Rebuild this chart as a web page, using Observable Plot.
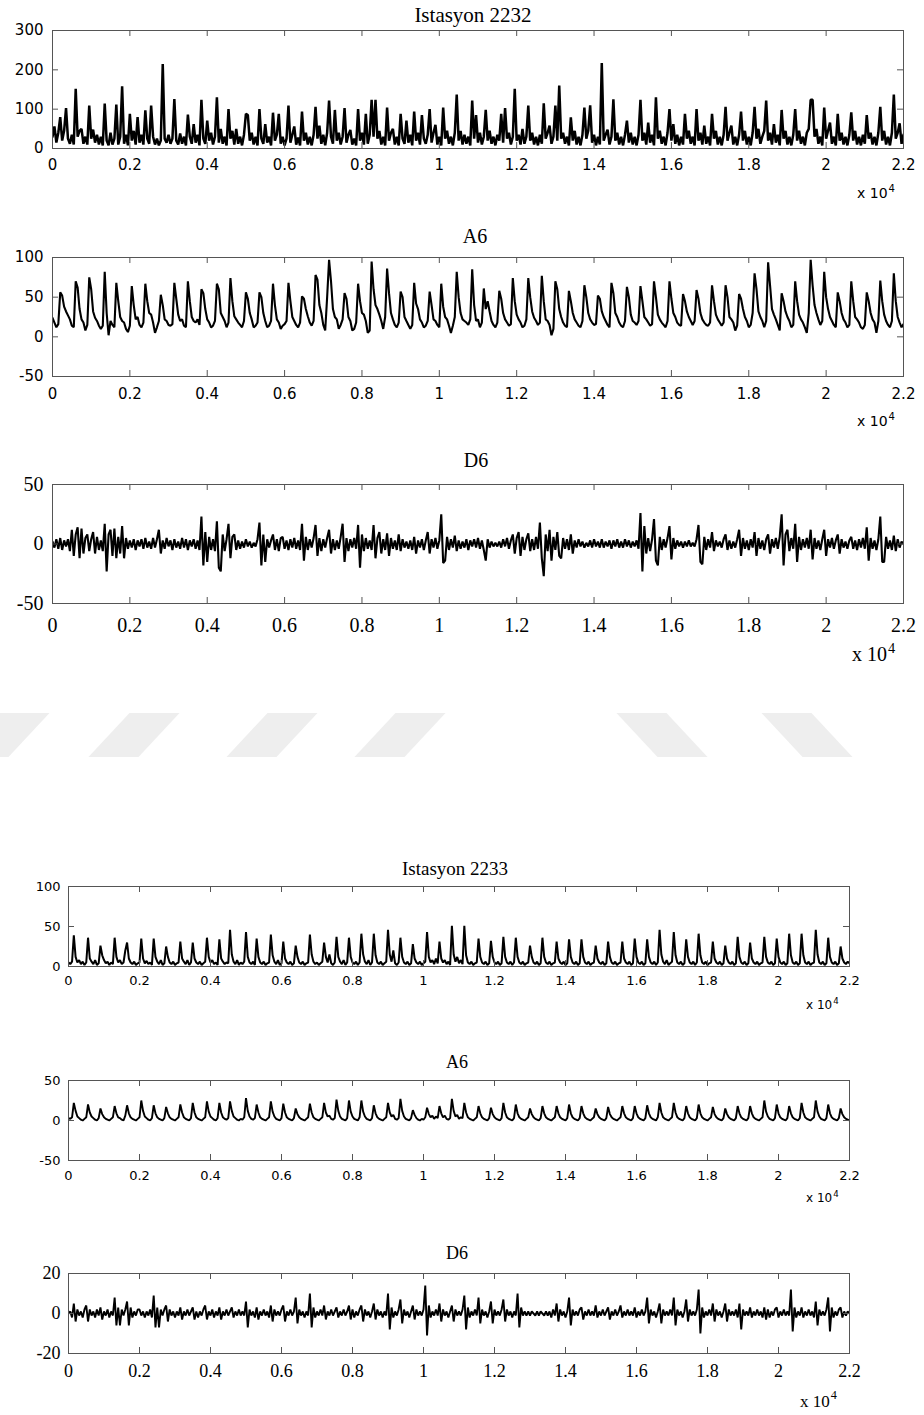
<!DOCTYPE html>
<html>
<head>
<meta charset="utf-8">
<script src="https://cdn.jsdelivr.net/npm/d3@7"></script>
<script src="https://cdn.jsdelivr.net/npm/@observablehq/plot@0.6"></script>
<style>
  html, body { margin: 0; padding: 0; background: #fff; }
  #page { position: relative; width: 924px; height: 1415px; overflow: hidden; background: #fff; }
  .ttl { position: absolute; white-space: nowrap; color: #000; font-family: "Liberation Serif", "Times New Roman", serif; line-height: 1; transform: translateX(-50%); }
  .exp { position: absolute; white-space: nowrap; color: #000; line-height: 1; }
  .exp span { position: relative; font-size: 0.72em; top: -0.6em; margin-left: 1px; }
  .wm { position: absolute; background: #eeeeee; }
</style>
</head>
<body>
<div id="page"></div>
<script>
// ---------- data ----------
const sampleStep = 50; // time units between consecutive samples
const xTickValues = [0, 2000, 4000, 6000, 8000, 10000, 12000, 14000, 16000, 18000, 20000, 22000];
const xTickLabels = ["0", "0.2", "0.4", "0.6", "0.8", "1", "1.2", "1.4", "1.6", "1.8", "2", "2.2"];

const ist2232Ticks = [0, 100, 200, 300];
const ist2232Labels = ["0", "100", "200", "300"];
const a6TopTicks = [-50, 0, 50, 100];
const a6TopLabels = ["-50", "0", "50", "100"];
const d6TopTicks = [-50, 0, 50];
const d6TopLabels = ["-50", "0", "50"];
const ist2233Ticks = [0, 50, 100];
const ist2233Labels = ["0", "50", "100"];
const a6BottomTicks = [-50, 0, 50];
const a6BottomLabels = ["-50", "0", "50"];
const d6BottomTicks = [-20, 0, 20];
const d6BottomLabels = ["-20", "0", "20"];

const ist2232 = [
30,56,15,40,80,20,45,103,25,12,
35,10,152,30,45,50,12,30,10,109,
25,48,15,35,10,30,8,114,20,8,
40,10,25,112,10,30,158,12,35,8,
88,20,45,10,80,15,35,10,97,25,
12,109,30,10,25,8,20,215,25,15,
35,12,25,126,20,10,38,12,30,8,
86,30,12,62,15,35,8,124,25,12,
71,20,40,10,30,130,15,50,12,30,
8,100,25,45,10,50,12,30,8,35,
88,85,20,40,10,30,8,100,25,12,
62,15,30,8,91,20,35,88,12,30,
8,25,109,15,35,56,10,28,8,94,
20,40,10,30,8,35,106,25,58,12,
35,8,40,122,30,12,98,20,40,10,
30,103,15,35,47,10,25,8,100,20,
40,10,88,12,35,124,30,124,25,45,
10,30,8,104,20,40,50,10,30,8,
88,25,12,71,15,35,8,94,20,40,
10,85,25,12,35,100,15,40,60,10,
30,8,104,25,45,12,30,8,40,137,
20,45,10,35,12,30,8,122,25,85,
15,40,10,30,98,20,45,12,30,8,
35,20,88,15,103,25,40,10,30,152,
20,35,10,50,12,30,109,20,40,10,
30,8,35,12,115,25,40,58,12,30,
109,20,160,25,40,12,30,8,79,20,
45,10,30,8,35,104,25,45,110,15,
35,8,30,10,217,20,35,48,10,30,
125,20,40,10,30,8,35,71,15,40,
10,30,8,35,124,20,40,10,66,15,
35,8,130,25,45,12,30,8,40,100,
20,62,12,35,8,30,10,88,25,45,
12,30,8,100,20,40,10,58,12,30,
8,88,25,45,10,30,8,35,106,20,
40,58,10,30,8,35,94,20,45,10,
30,8,40,106,25,50,12,30,45,122,
20,40,10,62,15,35,8,98,25,45,
10,30,8,35,100,20,45,12,30,8,
40,50,124,124,30,50,12,30,8,104,
25,45,66,12,30,8,88,20,40,10,
30,8,35,92,20,45,10,30,8,35,
12,85,25,40,10,30,8,40,106,20,
45,10,30,8,40,137,25,40,64,12,
35];

const a6Top = [
24,18,12,16,
56,52,38,32,27,22,14,12,
70,62,35,22,18,8,15,
75,60,32,24,20,14,10,14,
82,30,2,20,15,12,
68,45,25,20,18,10,6,14,
64,40,22,25,15,12,18,
67,45,30,28,18,5,12,20,
53,40,22,20,15,14,16,
68,48,28,20,22,14,12,
70,45,25,20,18,22,15,
60,55,35,22,18,12,14,20,
67,60,30,25,20,12,18,
74,45,26,22,18,15,12,20,
56,48,30,22,12,14,18,
56,50,30,20,12,14,20,
67,40,22,18,10,14,16,20,
68,45,25,20,15,12,18,
51,48,35,26,18,14,20,
78,72,40,30,15,8,50,
97,70,35,25,22,10,15,22,
55,48,25,20,8,10,18,
67,45,30,28,20,5,8,
95,60,40,35,28,20,10,25,
86,55,30,22,15,12,18,
57,50,25,20,15,10,15,
68,42,35,22,18,12,14,20,
57,40,22,20,15,12,
67,38,25,22,14,5,14,25,
82,50,30,22,20,18,15,22,
85,40,20,22,12,18,
61,35,45,32,20,15,12,18,
58,48,30,22,18,14,16,
74,45,28,22,18,12,14,22,
74,50,32,24,20,15,18,
77,45,22,20,15,2,10,
70,60,35,25,18,14,12,
58,45,30,22,18,14,12,20,
65,50,30,22,18,15,16,
52,48,32,25,20,15,12,
68,55,30,25,18,14,12,20,
63,50,28,20,18,15,20,
64,45,25,22,18,14,16,
70,50,28,22,18,15,12,20,
70,48,30,25,18,15,14,
54,45,32,25,20,15,20,
59,48,30,22,18,15,14,18,
65,45,28,22,18,14,18,
65,50,25,22,18,8,14,
54,48,35,25,20,12,15,30,
80,60,32,25,20,12,20,
94,65,35,28,22,15,8,
55,45,32,25,20,12,15,
70,45,28,22,18,12,5,30,
97,65,40,30,22,15,20,
82,50,35,25,20,15,12,
56,45,30,22,18,12,15,
70,45,25,22,18,12,10,15,
56,45,30,22,18,5,20,
71,45,28,20,15,12,20,
80,45,25,18,12,16];

const d6Top = [
2,-3,4,-4,5,-5,3,-2,4,-6,
12,-10,8,14,-12,13,-8,5,8,-6,
4,10,-8,6,-5,3,-6,17,-23,8,
12,-10,13,-12,6,-8,15,-12,5,-4,
3,-3,4,-5,3,-2,4,-4,5,-3,
2,-4,5,-3,4,12,-8,3,-4,5,
-2,3,-5,4,-3,2,-4,5,-3,4,
-5,3,-2,4,-4,3,-5,23,-18,10,
-15,6,-5,4,-6,19,-20,-23,8,-6,
4,17,-12,6,8,-5,3,-4,2,-3,
4,-2,2,-3,1,-2,4,18,-18,8,
-15,4,-3,3,8,-5,4,-6,5,6,
-4,3,-5,4,-3,5,-4,3,-5,17,
-14,6,-5,4,-3,5,16,-10,5,-6,
4,-3,5,12,-8,4,-5,3,-4,6,
17,-15,5,-6,4,-3,5,-4,16,-20,
8,-6,5,-4,3,-5,16,-12,5,10,
-8,4,-5,9,-10,5,-4,3,-5,8,
-6,4,-3,2,-4,3,-5,6,-8,3,
-3,4,-5,3,10,-8,4,-3,5,-4,
3,25,-16,-14,6,-5,4,-3,7,-6,
3,-4,2,-3,4,-5,3,-2,4,-3,
5,-4,3,-5,-14,4,-3,2,-2,1,
-2,2,-3,4,-2,5,-4,3,8,-8,
5,10,-10,6,-5,4,9,-6,4,-5,
6,-4,18,-12,-27,8,-6,12,-14,6,
-5,10,-10,-12,5,-4,4,-5,8,-8,
3,-3,4,-2,2,-3,1,-2,3,-3,
4,-2,2,-3,4,-3,2,-2,3,-4,
3,-2,4,-3,2,-3,4,-2,3,-3,
2,-2,3,-4,26,-23,15,-8,5,-6,
4,21,-14,-18,6,-5,4,-3,5,15,
-13,5,-4,3,-2,2,-3,2,-2,3,
-2,1,-2,4,16,-15,-17,6,-5,4,
-3,10,-6,3,-2,2,-3,4,8,-5,
3,-4,2,-3,4,12,-10,5,-4,3,
-5,4,-3,10,-10,5,-4,3,-5,4,
8,-8,4,-3,5,-4,6,25,-18,8,
12,-6,5,-4,17,-15,6,-5,4,-3,
5,-4,12,-13,5,-4,3,-5,4,12,
-10,4,-3,5,-4,3,8,-8,4,-3,
2,-4,3,6,-4,3,-5,4,-3,5,
-4,14,-14,5,-4,3,-5,4,23,-15,
-15,6,-4,3,-5,7,-6,4,-3,2,
0];

const ist2233 = [
5,3,6,39,12,5,8,3,6,2,
5,36,10,6,3,8,2,4,26,14,
8,4,6,2,5,3,36,12,5,8,
3,5,20,30,10,5,3,6,2,4,
5,35,10,4,7,3,5,2,35,12,
6,3,8,2,4,25,12,5,3,6,
2,4,5,31,10,6,3,8,2,5,
30,10,5,3,6,2,4,6,36,12,
5,8,3,5,2,34,10,6,3,5,
4,46,15,6,3,8,2,5,3,6,
43,12,5,3,6,2,35,12,5,3,
6,2,4,5,40,14,6,3,8,2,
4,31,10,5,3,6,2,4,26,12,
5,3,6,2,4,5,40,15,6,3,
5,2,4,6,30,12,5,15,4,2,
5,37,12,6,3,8,2,5,36,12,
5,3,6,2,5,41,15,6,3,8,
2,5,41,14,5,3,6,2,4,6,
46,15,6,20,4,2,5,36,12,5,
3,6,2,4,28,10,5,3,6,2,
4,6,43,12,5,8,3,10,4,31,
10,5,8,3,6,2,51,15,6,12,
4,8,3,51,14,5,3,6,2,4,
5,35,12,5,3,6,2,4,32,12,
5,3,6,2,4,37,12,5,3,6,
2,5,36,12,5,3,6,2,4,5,
26,12,5,3,6,2,4,36,12,5,
3,6,2,4,5,31,10,5,3,6,
2,4,34,12,5,3,6,2,4,34,
12,5,3,6,2,4,5,26,10,5,
3,6,2,4,31,12,5,3,6,2,
4,5,31,10,5,3,6,2,4,35,
12,5,3,6,2,4,34,12,5,3,
6,2,5,46,15,6,3,8,2,4,
6,43,14,5,3,6,2,4,34,12,
5,3,6,2,5,41,14,5,3,6,
2,4,5,31,10,5,3,6,2,4,
26,10,5,3,6,2,4,37,12,5,
3,6,2,4,30,10,5,3,6,2,
4,5,37,12,5,3,6,2,4,35,
12,5,3,6,2,4,41,14,5,3,
6,2,4,41,14,5,3,6,2,4,
5,46,15,5,3,6,2,4,36,12,
5,3,6,2,4,25,10,5,3,6,
4];

const a6Bottom = [
3,2,4,22,12,5,3,1,0,2,
4,20,10,5,3,1,0,3,15,8,
4,2,1,0,2,4,18,9,4,3,
1,0,6,19,9,4,2,1,0,2,
4,25,12,5,3,1,0,3,19,9,
4,2,1,0,3,17,9,4,2,1,
0,2,4,20,10,4,2,1,0,3,
22,10,4,2,1,0,2,4,24,11,
5,3,1,0,3,22,10,4,2,1,
3,24,12,5,3,1,0,2,1,4,
28,12,5,2,1,3,20,10,4,2,
1,0,2,4,24,11,5,2,1,0,
3,21,10,4,2,1,0,3,15,8,
4,2,1,0,2,4,21,10,4,2,
1,0,2,4,22,10,5,6,2,1,
3,26,12,5,2,1,0,3,25,11,
5,2,1,0,4,25,11,5,2,1,
0,3,19,9,4,2,1,0,2,4,
22,10,5,7,2,1,3,27,12,5,
2,1,0,3,13,7,3,1,0,2,
1,4,16,8,4,6,2,5,3,18,
9,4,6,2,1,3,27,12,5,7,
2,4,3,22,10,4,2,1,0,2,
4,18,9,4,2,1,0,3,16,8,
4,2,1,0,3,22,10,4,2,1,
0,3,20,9,4,2,1,0,2,4,
15,8,4,2,1,0,3,18,9,4,
2,1,0,2,4,18,9,4,2,1,
0,3,20,9,4,2,1,0,3,18,
9,4,2,1,0,2,4,15,8,4,
2,1,0,3,17,8,4,2,1,0,
2,4,18,9,4,2,1,0,3,18,
9,4,2,1,0,3,19,9,4,2,
1,0,4,22,10,4,2,1,0,2,
4,22,10,4,2,1,0,3,18,9,
4,2,1,0,3,20,9,4,2,1,
0,2,4,17,8,4,2,1,0,3,
15,8,4,2,1,0,3,18,9,4,
2,1,0,3,18,9,4,2,1,0,
2,4,25,11,5,2,1,0,3,20,
9,4,2,1,0,3,18,9,4,2,
1,0,3,22,10,4,2,1,0,2,
4,25,11,5,2,1,0,3,20,9,
4,2,1,0,3,15,8,4,2,1,
0];

const d6Bottom = [
0,1,-2,5,-4,2,-1,1,-2,2,
4,-4,2,-1,1,-2,2,-1,3,-3,
1,-1,2,-2,1,-1,8,-6,3,-6,
2,-1,2,6,-6,3,-2,1,-1,2,
2,-1,1,-2,1,-1,2,-2,9,-7,
3,-7,2,-1,2,4,-4,2,-1,1,
-2,1,-1,3,-3,1,-1,2,-1,1,
3,-3,1,-2,1,-1,2,4,-3,1,
-1,2,-2,1,-1,3,-3,1,-1,2,
-1,1,3,-2,1,-1,2,-1,1,-1,
6,-7,2,-1,1,-2,3,-3,1,-1,
2,-1,1,-2,4,-4,2,-1,1,-1,
2,4,-4,1,-1,2,-1,1,8,-5,
2,-1,1,-2,1,-1,10,-7,3,-2,
1,-1,2,-1,4,-3,1,-1,2,-1,
1,3,-2,1,-1,2,-1,1,4,-3,
2,-2,1,-1,2,4,-4,2,-1,1,
-2,1,5,-3,2,-1,1,-2,1,-1,
10,-8,3,-2,1,-1,2,7,-5,2,
-1,1,-2,1,4,-3,2,-1,1,-1,
2,14,-11,4,-2,1,-1,2,-1,5,
-4,2,-1,1,-2,1,4,-4,2,-1,
1,-1,2,9,-8,3,-2,1,-1,2,
-1,8,-5,2,-1,1,-2,1,6,-5,
2,-1,1,-1,2,7,-4,2,-1,1,
-2,1,-1,10,-7,3,-1,1,-1,1,
-1,1,0,-1,1,-1,1,0,-1,1,
-1,1,-2,2,-1,5,-4,2,-1,1,
-2,1,8,-6,2,-1,1,-1,2,3,
-3,1,-1,2,-1,1,-1,4,-2,1,
-1,2,-1,1,3,-3,1,-1,2,-1,
1,4,-2,1,-1,2,-1,1,-1,3,
-2,1,-1,2,-1,1,8,-5,2,-1,
1,-2,1,5,-5,2,-1,1,-1,2,
-1,8,-6,2,-1,1,-2,1,7,-4,
2,-1,1,-1,2,12,-10,3,-2,1,
-1,2,-1,5,-4,2,-1,1,-2,1,
5,-4,2,-1,1,-1,2,-2,5,-8,
2,-1,1,-1,3,-2,1,-1,2,-1,
1,-2,3,-3,2,-2,1,-1,2,3,
-2,1,-1,2,-1,1,-1,12,-9,3,
-2,1,-1,3,-2,1,-1,2,-1,1,
-2,6,-6,2,-1,1,-1,2,8,-9,
3,-2,1,-1,2,3,-2,1,-1,1,
0];

// ---------- layout / style ----------
const frameColor = "#555";
const tickLen = 6;
const SANS = "'DejaVu Sans', Verdana, sans-serif";
const SERIF = "'Liberation Serif', 'Times New Roman', serif";

const panels = [
  {values: ist2232, yDomain: [0, 300], yTicks: ist2232Ticks, yLabels: ist2232Labels,
   frameTop: 30, frameBottom: 148, ml: 52, mr: 21, font: SANS, fs: 15, padX: 11, padY: 9, sw: 2.5,
   title: "Istasyon 2232", tx: 473, tb: 23, tfs: 21, ex: 857, eb: 198, efont: SANS, efs: 14},
  {values: a6Top, yDomain: [-50, 100], yTicks: a6TopTicks, yLabels: a6TopLabels,
   frameTop: 257, frameBottom: 376, ml: 52, mr: 21, font: SANS, fs: 15, padX: 12, padY: 9, sw: 2.1,
   title: "A6", tx: 475, tb: 243, tfs: 20, ex: 857, eb: 426, efont: SANS, efs: 14},
  {values: d6Top, yDomain: [-50, 50], yTicks: d6TopTicks, yLabels: d6TopLabels,
   frameTop: 484, frameBottom: 603, ml: 52, mr: 21, font: SERIF, fs: 20, padX: 14, padY: 9, sw: 2.1,
   title: "D6", tx: 476, tb: 467, tfs: 20, ex: 852, eb: 661, efont: SERIF, efs: 20},
  {values: ist2233, yDomain: [0, 100], yTicks: ist2233Ticks, yLabels: ist2233Labels,
   frameTop: 886, frameBottom: 966, ml: 68, mr: 75, font: SANS, fs: 13, padX: 9, padY: 8, sw: 2,
   title: "Istasyon 2233", tx: 455, tb: 875, tfs: 19, ex: 806, eb: 1009, efont: SANS, efs: 12},
  {values: a6Bottom, yDomain: [-50, 50], yTicks: a6BottomTicks, yLabels: a6BottomLabels,
   frameTop: 1080, frameBottom: 1160, ml: 68, mr: 75, font: SANS, fs: 13, padX: 10, padY: 8, sw: 1.9,
   title: "A6", tx: 457, tb: 1068, tfs: 18, ex: 806, eb: 1202, efont: SANS, efs: 12},
  {values: d6Bottom, yDomain: [-20, 20], yTicks: d6BottomTicks, yLabels: d6BottomLabels,
   frameTop: 1273, frameBottom: 1353, ml: 68, mr: 75, font: SERIF, fs: 18, padX: 11, padY: 8, sw: 1.9,
   title: "D6", tx: 457, tb: 1259, tfs: 18, ex: 800, eb: 1407, efont: SERIF, efs: 17}
];

const page = document.getElementById("page");

// faint watermark stripes (decoration of the scanned page)
const stripes = [
  {cx: 4, skew: -43}, {cx: 134, skew: -43}, {cx: 272, skew: -43}, {cx: 400, skew: -43},
  {cx: 662, skew: 43}, {cx: 807, skew: 43}
];
for (const s of stripes) {
  const d = document.createElement("div");
  d.className = "wm";
  d.style.left = (s.cx - 25) + "px";
  d.style.top = "713px";
  d.style.width = "50px";
  d.style.height = "44px";
  d.style.transform = `skewX(${s.skew}deg)`;
  page.appendChild(d);
}

const xLab = new Map(xTickValues.map((t, i) => [t, xTickLabels[i]]));

for (const p of panels) {
  const rows = p.values.map((v, i) => ({t: i * sampleStep, v}));
  const mt = 24, mb = 44;
  const innerW = 924 - p.ml - p.mr;
  const innerH = p.frameBottom - p.frameTop;
  const yLab = new Map(p.yTicks.map((t, i) => [t, p.yLabels[i]]));
  const chart = Plot.plot({
    width: 924,
    height: mt + innerH + mb,
    marginLeft: p.ml, marginRight: p.mr, marginTop: mt, marginBottom: mb,
    style: {background: "none", fontFamily: p.font, fontSize: p.fs + "px", color: "#000", overflow: "visible"},
    x: {domain: [0, 22000], label: null},
    y: {domain: p.yDomain, label: null},
    marks: [
      Plot.line(rows, {x: "t", y: "v", stroke: "#000", strokeWidth: p.sw, strokeLinejoin: "miter", clip: true}),
      Plot.frame({stroke: frameColor, strokeWidth: 1}),
      Plot.tickX(xTickValues, {x: d => d, stroke: frameColor, insetBottom: innerH - tickLen}),
      Plot.tickX(xTickValues, {x: d => d, stroke: frameColor, insetTop: innerH - tickLen}),
      Plot.tickY(p.yTicks, {y: d => d, stroke: frameColor, insetRight: innerW - tickLen}),
      Plot.tickY(p.yTicks, {y: d => d, stroke: frameColor, insetLeft: innerW - tickLen}),
      Plot.axisX({ticks: xTickValues, tickSize: 0, tickPadding: p.padX, tickFormat: d => xLab.get(d), label: null}),
      Plot.axisY({ticks: p.yTicks, tickSize: 0, tickPadding: p.padY, tickFormat: d => yLab.get(d), label: null})
    ]
  });
  chart.style.position = "absolute";
  chart.style.left = "0px";
  chart.style.top = (p.frameTop - mt) + "px";
  page.appendChild(chart);

  const t = document.createElement("div");
  t.className = "ttl";
  t.textContent = p.title;
  t.style.fontSize = p.tfs + "px";
  t.style.left = p.tx + "px";
  t.style.top = (p.tb - 0.84 * p.tfs) + "px";
  page.appendChild(t);

  const e = document.createElement("div");
  e.className = "exp";
  e.style.fontFamily = p.efont;
  e.style.fontSize = p.efs + "px";
  e.style.left = p.ex + "px";
  e.style.top = (p.eb - 0.84 * p.efs) + "px";
  e.innerHTML = "x 10<span>4</span>";
  page.appendChild(e);
}
</script>
</body>
</html>
